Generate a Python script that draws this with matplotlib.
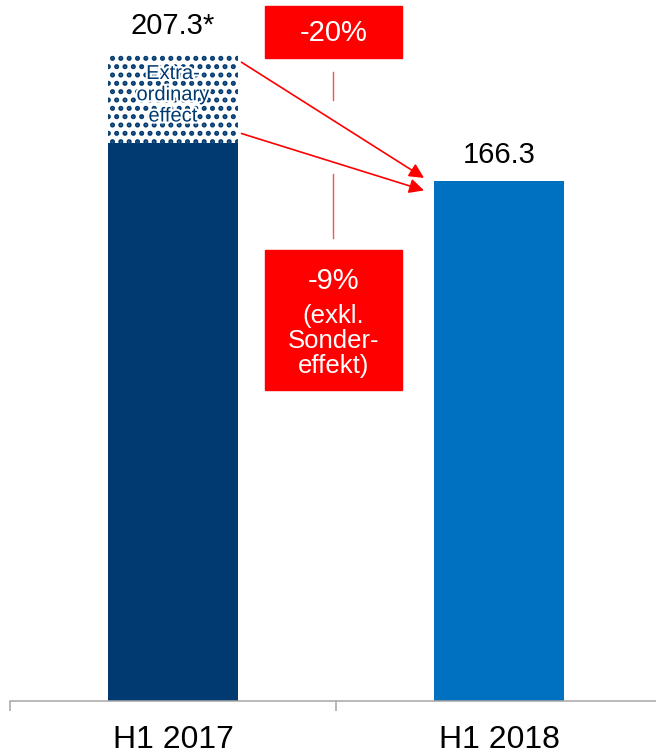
import matplotlib
matplotlib.use("Agg")
import matplotlib.pyplot as plt
from matplotlib.patches import Rectangle
import matplotlib.patheffects as pe

plt.rcParams["font.family"] = ["Liberation Sans", "DejaVu Sans"]
plt.rcParams["hatch.linewidth"] = 2.4

categories = ["H1 2017", "H1 2018"]
base_values = [178.5, 166.3]
extra_value = 207.3 - 178.5
value_labels = ["207.3*", "166.3"]
change_total = "-20%"
change_adj = "-9%"
change_adj_note = "(exkl.\nSonder-\neffekt)"
extra_label = "Extra-\nordinary\neffect"

navy = "#003a70"
blue = "#0070c0"
red = "#ff0000"

W, H = 656, 755
fig = plt.figure(figsize=(W / 100, H / 100), dpi=100)
ax = fig.add_axes([10 / W, 54 / H, 652 / W, 701 / H])


def fx(px):
    return px / W


def fy(py):
    return 1 - py / H


x = [0, 1]
bw = 0.4
ax.bar(x[0], base_values[0], width=bw, color=navy, linewidth=0)
ax.bar(x[1], base_values[1], width=bw, color=blue, linewidth=0)
ax.bar(x[0], extra_value, bottom=base_values[0], width=bw, facecolor="white",
       edgecolor=navy, hatch="..", linewidth=0)

total0 = base_values[0] + extra_value
ax.text(x[0], total0 + 4, value_labels[0], ha="center", va="bottom", fontsize=21)
ax.text(x[1], base_values[1] + 4, value_labels[1], ha="center", va="bottom", fontsize=21)
ax.text(x[0], base_values[0] + extra_value / 2 + 1, extra_label, ha="center", va="center",
        fontsize=14.5, color=navy, linespacing=1.15,
        path_effects=[pe.withStroke(linewidth=3, foreground="white")])

# arrows from 2017 bar to 2018 bar
arrow = dict(arrowstyle="-|>", color=red, lw=1.2, mutation_scale=22, shrinkA=0, shrinkB=0)
ax.annotate("", xy=(x[1] - bw / 2 - 0.03, base_values[1] + 1),
            xytext=(x[0] + bw / 2 + 0.01, total0 - 3), arrowprops=arrow)
ax.annotate("", xy=(x[1] - bw / 2 - 0.03, base_values[1] - 3),
            xytext=(x[0] + bw / 2 + 0.01, base_values[0] + 3), arrowprops=arrow)

# red boxes
fig.patches.append(Rectangle((fx(265), fy(58)), fx(137), 52 / H, color=red,
                             transform=fig.transFigure, zorder=3))
fig.patches.append(Rectangle((fx(265), fy(390)), fx(137), 140 / H, color=red,
                             transform=fig.transFigure, zorder=3))
fig.text(fx(333.5), fy(33), change_total, color="white", fontsize=21, ha="center", va="center")
fig.text(fx(333.5), fy(281), change_adj, color="white", fontsize=21, ha="center", va="center")
fig.text(fx(333.5), fy(341), change_adj_note, color="white", fontsize=18.5, ha="center",
         va="center", linespacing=1.05)

# thin connector lines
fig.add_artist(plt.Line2D([fx(333), fx(333)], [fy(72), fy(100)], color="#ff5050", lw=1))
fig.add_artist(plt.Line2D([fx(333), fx(333)], [fy(174), fy(238)], color="#ff5050", lw=1))

ax.set_xlim(-0.5, 1.5)
ax.set_ylim(0, 224.2)
for s in ["left", "right", "top"]:
    ax.spines[s].set_visible(False)
ax.spines["bottom"].set_color("#a6a6a6")
ax.spines["bottom"].set_linewidth(1.1)
ax.set_yticks([])
ax.set_xticks(x)
ax.set_xticklabels(categories, fontsize=23)
ax.tick_params(axis="x", which="major", length=0, pad=17)
ax.set_xticks([-0.5, 0.5, 1.5], minor=True)
ax.tick_params(axis="x", which="minor", length=7.5, color="#a6a6a6", width=1.1)

fig.savefig("out.png", dpi=100)
